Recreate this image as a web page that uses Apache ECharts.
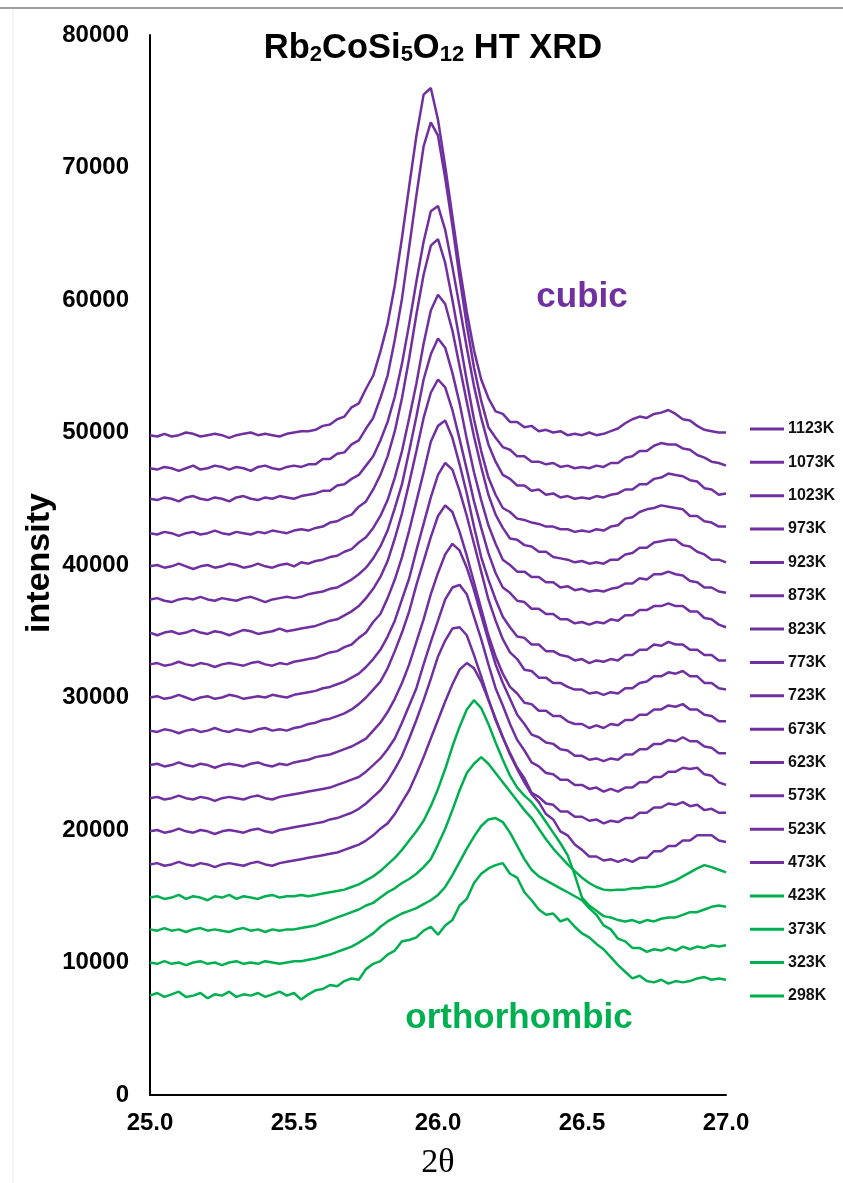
<!DOCTYPE html>
<html>
<head>
<meta charset="utf-8">
<script src="https://cdn.jsdelivr.net/npm/echarts@6/dist/echarts.min.js"></script>
<style>
html,body{margin:0;padding:0;background:#fff;}
#chart{width:843px;height:1183px;}
</style>
</head>
<body>
<div id="chart"></div>
<script>
// 2-theta grid (degrees)
const THETA = [25.000,25.025,25.05,25.075,25.1,25.125,25.15,25.175,25.2,25.225,25.25,25.275,25.3,25.325,25.35,25.375,25.4,25.425,25.45,25.475,25.5,25.525,25.55,25.575,25.6,25.625,25.65,25.675,25.7,25.725,25.75,25.775,25.8,25.825,25.85,25.875,25.9,25.925,25.95,25.975,26,26.025,26.05,26.075,26.1,26.125,26.15,26.175,26.2,26.225,26.25,26.275,26.3,26.325,26.35,26.375,26.4,26.425,26.45,26.475,26.5,26.525,26.55,26.575,26.6,26.625,26.65,26.675,26.7,26.725,26.75,26.775,26.8,26.825,26.85,26.875,26.9,26.925,26.95,26.975,27];

// intensities (offset-stacked), in units of 100 counts
const I1123 = [498,497,499,497,498,500,499,497,498,499,498,496,498,499,500,498,499,498,497,499,500,501,501,502,505,506,510,512,519,522,533,543,561,582,611,647,686,724,755,760,736,701,663,625,591,562,540,526,516,514,508,508,504,505,501,502,500,501,498,499,498,500,498,499,501,503,507,510,512,511,514,515,517,514,510,509,505,502,501,500,500];
const I1073 = [473,472,474,473,471,473,475,472,473,475,474,472,474,473,471,474,475,473,472,474,475,474,476,476,480,480,484,485,491,494,503,511,526,543,570,601,640,679,716,734,724,692,656,617,581,549,524,504,496,489,487,482,482,478,478,476,477,474,475,473,474,473,475,474,477,477,481,482,486,486,490,492,491,491,488,487,483,481,478,477,475];
const I1023 = [450,449,451,450,448,451,452,450,449,451,450,448,451,452,450,449,451,450,452,451,450,452,453,454,456,456,460,461,465,468,475,482,494,508,527,552,582,614,644,667,671,653,625,595,564,535,511,491,478,468,465,460,460,456,457,453,454,451,452,450,451,450,452,451,453,454,457,457,461,461,465,466,469,468,467,464,463,458,457,453,454];
const I973 = [424,423,425,424,422,424,425,423,424,426,424,423,425,424,423,425,424,426,425,424,426,427,426,428,429,432,433,436,438,444,448,457,468,482,501,526,556,589,619,641,646,628,600,570,539,510,486,466,453,443,440,435,434,432,431,429,429,427,427,425,426,425,427,426,429,430,435,436,440,442,443,445,444,443,442,437,437,433,432,429,429];
const I923 = [399,400,398,399,401,399,397,399,400,398,399,401,400,398,399,401,399,398,400,401,399,402,401,403,404,406,407,410,412,417,421,428,437,449,466,486,511,537,567,592,604,597,577,550,523,497,474,453,438,428,420,419,415,414,410,410,406,405,404,402,403,401,402,401,404,404,408,409,413,413,417,418,419,419,415,414,410,408,404,404,402];
const I873 = [374,375,373,372,374,375,374,376,374,373,375,374,373,375,376,374,372,374,375,376,375,376,378,379,380,382,383,386,389,393,398,405,414,426,443,461,486,512,540,559,571,564,545,522,495,470,449,430,416,404,400,395,395,391,391,387,387,383,384,381,382,380,381,380,382,383,386,386,390,389,393,393,395,393,392,388,387,383,383,380,379];
const I823 = [349,347,349,350,348,349,351,349,348,350,349,347,349,351,350,348,349,350,352,350,351,352,353,354,356,358,359,362,365,369,375,382,391,403,420,439,462,486,511,530,540,534,517,495,472,448,428,409,394,383,379,373,372,367,367,363,363,359,359,356,357,355,357,356,359,358,362,362,366,366,369,369,371,369,369,365,365,360,359,355,353];
const I773 = [325,326,324,325,327,325,324,326,325,323,325,326,325,324,326,327,325,324,326,325,327,328,329,330,332,334,335,338,340,345,349,357,363,375,389,406,426,448,470,493,505,509,496,476,454,429,406,389,374,361,353,346,345,340,340,335,335,332,331,328,329,326,328,327,329,328,332,332,336,336,340,339,342,340,340,336,336,332,332,328,328];
const I723 = [300,301,299,300,302,300,298,300,301,299,300,302,301,299,300,301,300,302,301,300,302,303,304,305,307,308,310,312,315,318,323,329,336,346,358,374,390,411,431,451,468,477,472,456,437,416,395,374,358,344,334,329,321,320,315,315,311,311,308,306,306,303,304,302,304,303,307,307,311,312,316,316,319,318,320,316,316,311,311,307,306];
const I673 = [275,274,276,275,273,275,276,274,275,277,275,274,276,275,274,276,277,275,276,275,277,278,280,281,283,284,286,288,291,295,300,306,312,322,335,349,365,385,403,421,437,445,440,425,407,387,367,347,331,318,308,303,296,295,290,290,286,286,282,280,280,277,279,277,280,279,283,283,287,287,291,291,294,293,295,291,291,287,286,282,282];
const I623 = [249,250,248,249,251,249,248,250,249,247,249,250,249,248,250,251,249,248,250,249,251,252,253,255,256,257,259,261,263,266,269,275,281,289,299,311,325,342,359,378,394,408,416,411,398,381,362,343,325,311,299,287,280,272,270,266,265,261,260,256,256,253,254,252,254,253,257,257,261,261,265,265,268,267,270,267,267,263,262,258,258];
const I573 = [224,225,223,224,226,224,223,225,224,222,224,225,224,223,225,226,224,223,225,226,227,228,229,230,231,232,234,236,238,240,244,249,254,261,269,281,294,307,325,342,358,374,383,385,378,361,344,325,307,294,280,268,260,251,248,243,242,238,238,234,234,231,232,229,231,229,232,232,236,236,240,240,244,244,247,246,247,242,241,236,234];
const I523 = [199,200,198,199,201,199,198,200,199,197,199,200,199,198,200,201,199,198,200,201,202,203,204,205,206,208,209,211,213,216,220,225,230,237,246,256,269,283,298,314,331,343,352,353,347,332,316,299,283,270,258,247,239,228,225,220,219,214,214,210,210,207,208,205,207,206,209,209,213,213,217,217,220,219,221,218,219,215,216,213,213];
const I473 = [174,175,173,174,176,174,173,175,174,172,174,175,174,173,175,176,174,173,175,176,177,178,179,180,181,182,183,185,187,189,192,196,201,205,212,221,230,242,255,269,283,297,310,321,326,322,312,298,284,270,257,246,236,227,221,212,208,199,196,189,185,180,180,177,178,176,178,176,179,179,184,184,188,188,192,192,196,196,196,192,191];
const I423 = [149,150,148,149,151,148,150,149,147,150,149,151,148,150,149,148,150,151,149,150,150,151,150,151,152,153,154,155,157,159,162,165,169,174,179,185,192,199,207,218,231,246,263,278,291,298,292,280,266,253,241,232,226,221,214,206,198,190,181,166,149,143,139,135,134,132,131,132,130,132,131,133,134,134,136,138,138,140,142,143,142,144,143];
const I373 = [125,124,126,124,125,123,125,126,124,125,124,123,125,126,124,125,123,125,124,125,125,126,127,128,130,132,134,136,138,140,143,145,149,153,156,160,163,167,172,178,189,201,215,230,243,250,255,250,243,236,229,222,215,209,201,193,186,180,174,169,164,160,157,155,154.5,155,155,156,156,157,157,158,160,162,165,168,171,173.5,172,170,168];
const I323 = [100,99,101,99,100,98,100,101,99,100,98,100,101,99,100,99,101,100,99,100,101,101,102,103,104.5,106,108,110,112,115,118.5,122,127,131,134,137,139,141,144,147,151,157,166,176,186,195,203,208,209,206,198,188,178,170,165,162,159,156,153,150,147,141,136,128,125,118,116,111,111,108,110,109,111,109,112,110,112,111,113,112,113];
const I298 = [75,77,74,76,78,74,75,77,73,76,75,78,74,76,75,77,74,76,78,75,77,72,76,79,80,83,82,86,88,87,95,99,101,106,109,116,117,119,124,127,121,128,132,143,148,160,167,171,173.5,175,167,164,153,147,140,136,137,131,133,127,122,119,114,110,104,98,93,88,90,86,85,87,84,86,85,86,88,89,87,88,87];

const UNIT = 100;
const SERIES_NAMES = ['1123K','1073K','1023K','973K','923K','873K','823K','773K','723K','673K','623K','573K','523K','473K','423K','373K','323K','298K'];
const SERIES_VALUES = [I1123,I1073,I1023,I973,I923,I873,I823,I773,I723,I673,I623,I573,I523,I473,I423,I373,I323,I298];
const CUBIC_COUNT = 14; // first 14 series are cubic phase

const PURPLE = '#7030A0';
const GREEN = '#00B050';
const SANS = '"Liberation Sans", Arial, sans-serif';

const series = SERIES_NAMES.map((name, k) => ({
  name: name,
  type: 'line',
  symbol: 'none',
  showSymbol: false,
  silent: true,
  animation: false,
  data: THETA.map((t, i) => [t, SERIES_VALUES[k][i] * UNIT]),
  lineStyle: { width: 2.5, color: k < CUBIC_COUNT ? PURPLE : GREEN },
  itemStyle: { color: k < CUBIC_COUNT ? PURPLE : GREEN }
}));

const chart = echarts.init(document.getElementById('chart'), null, { renderer: 'canvas' });
chart.setOption({
  animation: false,
  backgroundColor: '#ffffff',
  grid: { left: 150, right: 117, top: 35, bottom: 88, containLabel: false },
  xAxis: {
    type: 'value', min: 25, max: 27, interval: 0.5,
    axisLine: { show: true, lineStyle: { color: '#000', width: 2 } },
    axisTick: { show: false },
    splitLine: { show: false },
    axisLabel: { margin: 16, fontSize: 24, fontWeight: 'bold', color: '#000', fontFamily: SANS,
      formatter: v => v.toFixed(1) }
  },
  yAxis: {
    type: 'value', min: 0, max: 80000, interval: 10000,
    axisLine: { show: true, lineStyle: { color: '#000', width: 2 } },
    axisTick: { show: false },
    splitLine: { show: false },
    axisLabel: { margin: 21, fontSize: 24, fontWeight: 'bold', color: '#000', fontFamily: SANS,
      formatter: v => String(v) }
  },
  legend: {
    data: SERIES_NAMES,
    orient: 'vertical',
    left: 745, top: 416,
    icon: 'rect',
    itemWidth: 34, itemHeight: 3, itemGap: 17.35,
    selectedMode: false,
    textStyle: { fontSize: 16, fontWeight: 'bold', color: '#111', fontFamily: SANS, lineHeight: 16, padding: [0, 0, 0, -1] }
  },
  graphic: [
    { type: 'line', shape: { x1: 0, y1: 8, x2: 843, y2: 8 }, style: { stroke: '#a0a0a0', lineWidth: 2 }, silent: true },
    { type: 'line', shape: { x1: 13, y1: 9, x2: 13, y2: 1183 }, style: { stroke: '#ececec', lineWidth: 1 }, silent: true },
    { type: 'text', x: 433, y: 47, silent: true,
      style: {
        text: '{a|Rb}{s|2}{a|CoSi}{s|5}{a|O}{s|12}{a| HT XRD}',
        align: 'center', verticalAlign: 'middle',
        rich: {
          a: { fontSize: 34.5, fontWeight: 'bold', fontFamily: SANS, fill: '#000', lineHeight: 37, verticalAlign: 'bottom' },
          s: { fontSize: 22, fontWeight: 'bold', fontFamily: SANS, fill: '#000', lineHeight: 14, verticalAlign: 'bottom' }
        }
      } },
    { type: 'text', x: 582, y: 297, silent: true,
      style: { text: 'cubic', align: 'center', verticalAlign: 'middle', fontSize: 35, fontWeight: 'bold', fontFamily: SANS, fill: PURPLE } },
    { type: 'text', x: 519, y: 1018, silent: true,
      style: { text: 'orthorhombic', align: 'center', verticalAlign: 'middle', fontSize: 35, fontWeight: 'bold', fontFamily: SANS, fill: GREEN } },
    { type: 'text', x: 40, y: 563, rotation: Math.PI / 2, silent: true,
      style: { text: 'intensity', align: 'center', verticalAlign: 'middle', fontSize: 34, fontWeight: 'bold', fontFamily: SANS, fill: '#000' } },
    { type: 'text', x: 438, y: 1163, silent: true,
      style: { text: '2θ', align: 'center', verticalAlign: 'middle', fontSize: 34, fontFamily: '"Liberation Serif", "Times New Roman", serif', fill: '#000' } }
  ],
  series: series
});
</script>
</body>
</html>
